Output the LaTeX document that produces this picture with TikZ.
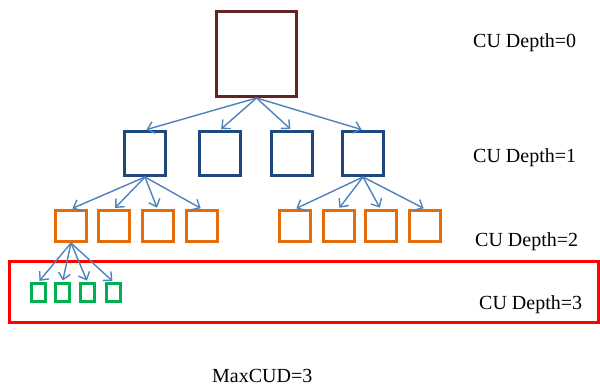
\documentclass[tikz,border=0pt]{standalone}
\usepackage{fontspec}
\setmainfont{Liberation Serif}
\usetikzlibrary{arrows.meta}
\definecolor{rootred}{RGB}{99,37,35}
\definecolor{cublue}{RGB}{31,73,125}
\definecolor{cuorange}{RGB}{228,108,10}
\definecolor{cugreen}{RGB}{0,176,80}
\definecolor{splitblue}{RGB}{79,129,189}
\begin{document}
\begin{tikzpicture}[x=1pt,y=-1pt,
  cu/.style={draw,line width=3pt,inner sep=0pt},
  cu0/.style={cu,rootred,minimum width=80pt,minimum height=85pt},
  cu1/.style={cu,cublue,minimum width=41pt,minimum height=44pt},
  cu2/.style={cu,cuorange,minimum width=31pt,minimum height=31pt},
  cu3/.style={cu,cugreen,minimum width=14pt,minimum height=18pt},
  split/.style={splitblue,line width=1.4pt,shorten >=1.5pt,-{Straight Barb[length=6.5pt,width=12pt]}},
  depth/.style={anchor=base west,inner sep=0pt,font=\fontsize{20}{24}\selectfont}]
\useasboundingbox (0,0) rectangle (600,387);
% max depth frame
\draw[red,line width=3pt] (9.5,261.5) rectangle (598,322.5);
% depth 0
\node[cu0] (r) at (256.5,54) {};
% depth 1
\node[cu1] (a1) at (145,153.5) {};
\node[cu1] (a2) at (220,153.5) {};
\node[cu1] (a3) at (291.5,153.5) {};
\node[cu1] (a4) at (363,153.5) {};
% depth 2
\node[cu2] (b1) at (71,226) {};
\node[cu2] (b2) at (114,226) {};
\node[cu2] (b3) at (157.5,226) {};
\node[cu2] (b4) at (202,226) {};
\node[cu2] (b5) at (295,226) {};
\node[cu2] (b6) at (338.5,226) {};
\node[cu2] (b7) at (380.5,226) {};
\node[cu2] (b8) at (425,226) {};
% depth 3
\node[cu3] (c1) at (38.5,292.5) {};
\node[cu3] (c2) at (62.5,292.5) {};
\node[cu3] (c3) at (87.5,292.5) {};
\node[cu3] (c4) at (113.5,292.5) {};
% splits
\draw[split] (r.south) -- (a1.north);
\draw[split] (r.south) -- (a2.north);
\draw[split] (r.south) -- (a3.north);
\draw[split] (r.south) -- (a4.north);
\draw[split] (a1.south) -- (b1.north);
\draw[split] (a1.south) -- (b2.north);
\draw[split] (a1.south) -- (b3.north);
\draw[split] (a1.south) -- (b4.north);
\draw[split] (a4.south) -- (b5.north);
\draw[split] (a4.south) -- (b6.north);
\draw[split] (a4.south) -- (b7.north);
\draw[split] (a4.south) -- (b8.north);
\draw[split] (b1.south) -- (c1.north);
\draw[split] (b1.south) -- (c2.north);
\draw[split] (b1.south) -- (c3.north);
\draw[split] (b1.south) -- (c4.north);
% labels
\node[depth] (d0) at (473,48) {CU Depth=0};
\node[depth] (d1) at (473,163) {CU Depth=1};
\node[depth] (d2) at (475,247) {CU Depth=2};
\node[depth] (d3) at (479,310) {CU Depth=3};
\node[depth] (maxd) at (212,383) {MaxCUD=3};
\end{tikzpicture}
\end{document}
